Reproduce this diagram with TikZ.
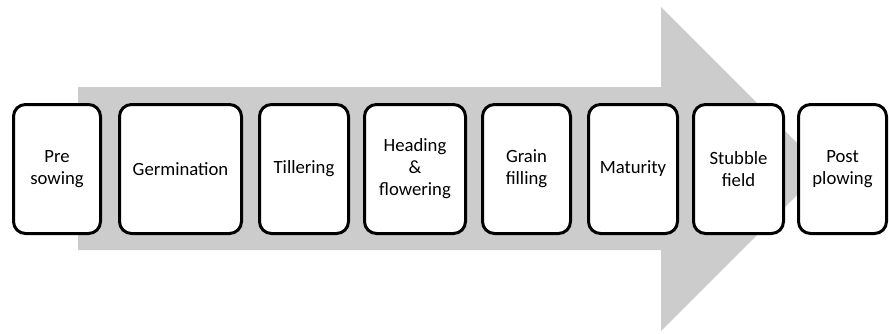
\documentclass[tikz,border=0pt]{standalone}
\usepackage{fontspec}
\setmainfont{Carlito}
\usepackage{xcolor}

\begin{document}
\begin{tikzpicture}[x=1pt,y=1pt,
  stage/.style={draw, line width=3pt, rounded corners=12pt, fill=white,
    minimum height=129pt, inner sep=0pt, align=center,
    font=\fontsize{18.7}{22}\selectfont}]
  \useasboundingbox (0,0) rectangle (889,333);
  % big gray arrow behind the stages
  \fill[gray!40] (78,83) -- (661,83) -- (661,2) -- (823,164)
    -- (661,326) -- (661,246) -- (78,246) -- cycle;

  \foreach \n/\cx/\w/\txt in {presow/57/87/Pre\\sowing,
      germ/180.5/122/Germination,
      till/304/89/Tillering,
      head/415/101/Heading\\\&\\flowering,
      grain/526.5/88/Grain\\filling,
      mat/633/89/Maturity,
      stub/738.5/90/Stubble\\field,
      postplow/842.5/88/Post\\plowing} {
    \node[stage, minimum width=\w pt] (\n) at (\cx,164) {\txt};
  };
\end{tikzpicture}
\end{document}
